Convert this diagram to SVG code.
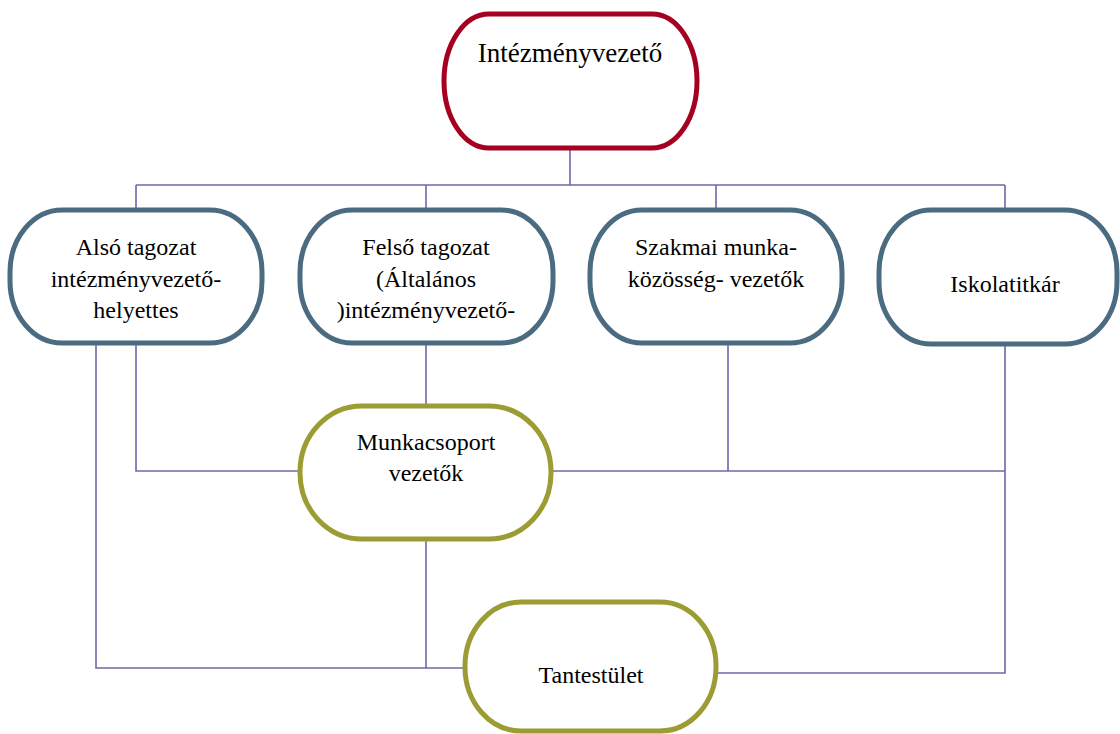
<svg xmlns="http://www.w3.org/2000/svg" width="1120" height="734" viewBox="0 0 1120 734">
<style>
.n{fill:#fff;stroke-width:5}
.red{stroke:#A50021}
.blue{stroke:#4A6B80}
.olive{stroke:#9C9C34}
.c{fill:none;stroke:#6E68A8;stroke-width:1.6}
text{font-family:"Liberation Serif","Times New Roman",serif;font-size:24px;fill:#000;text-anchor:middle}
</style>
<rect width="1120" height="734" fill="#fff"/>
<g id="connectors">
<path class="c" d="M570,148 V185 M136,185 H1005 M136,185 V210 M426,185 V210 M716,185 V210 M1005,185 V210"/>
<path class="c" d="M96,343 V668 H464"/>
<path class="c" d="M136,343 V471 H300"/>
<path class="c" d="M426,343 V406"/>
<path class="c" d="M728,338 V471"/>
<path class="c" d="M551,471 H1005"/>
<path class="c" d="M1005,344 V673 H717"/>
<path class="c" d="M426,539 V668"/>
</g>
<g id="intezmenyvezeto">
<rect class="n red" x="444" y="14" width="253" height="134" rx="45" ry="67"/>
<text x="570" y="62" style="font-size:27px">Intézményvezető</text>
</g>
<g id="also">
<rect class="n blue" x="10" y="210" width="252" height="133" rx="52" ry="62"/>
<text x="136" y="255">Alsó tagozat</text>
<text x="136" y="287">intézményvezető-</text>
<text x="136" y="318">helyettes</text>
</g>
<g id="felso">
<rect class="n blue" x="300" y="210" width="253" height="133" rx="52" ry="62"/>
<text x="426" y="255">Felső tagozat</text>
<text x="426" y="287">(Általános</text>
<text x="426" y="318">)intézményvezető-</text>
</g>
<g id="szakmai">
<rect class="n blue" x="590" y="210" width="252" height="133" rx="52" ry="62"/>
<text x="716" y="255">Szakmai munka-</text>
<text x="716" y="287">közösség- vezetők</text>
</g>
<g id="iskolatitkar">
<rect class="n blue" x="879" y="210" width="238" height="134" rx="52" ry="62"/>
<text x="1005" y="292">Iskolatitkár</text>
</g>
<g id="munkacsoport">
<rect class="n olive" x="300" y="406" width="251" height="133" rx="62" ry="66"/>
<text x="426" y="450">Munkacsoport</text>
<text x="426" y="481">vezetők</text>
</g>
<g id="tantestulet">
<rect class="n olive" x="465" y="602" width="251" height="129" rx="56" ry="64"/>
<text x="591" y="683">Tantestület</text>
</g>
</svg>
